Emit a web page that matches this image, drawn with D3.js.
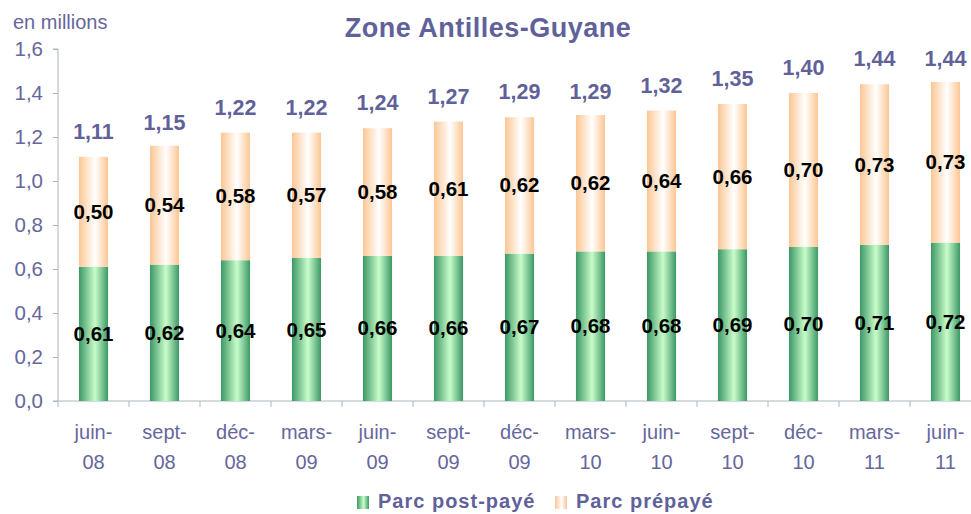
<!DOCTYPE html>
<html>
<head>
<meta charset="utf-8">
<script src="https://cdn.jsdelivr.net/npm/d3@7"></script>
<style>
  body { margin: 0; background: #fff; }
  svg { font-family: "Liberation Sans", Arial, sans-serif; }
  .axis text { fill: #66669c; font-size: 20px; }
  .y.axis text { font-size: 20.5px; }
  .axis path, .axis line { stroke: #a9b6c2; }
</style>
</head>
<body>
<div id="chart"></div>
<script>
// chart data
var periods = ["juin-08", "sept-08", "déc-08", "mars-09", "juin-09", "sept-09", "déc-09",
  "mars-10", "juin-10", "sept-10", "déc-10", "mars-11", "juin-11"];
var postpaid = [0.61, 0.62, 0.64, 0.65, 0.66, 0.66, 0.67, 0.68, 0.68, 0.69, 0.70, 0.71, 0.72];
var prepaid = [0.50, 0.54, 0.58, 0.57, 0.58, 0.61, 0.62, 0.62, 0.64, 0.66, 0.70, 0.73, 0.73];
var totals = [1.11, 1.15, 1.22, 1.22, 1.24, 1.27, 1.29, 1.29, 1.32, 1.35, 1.40, 1.44, 1.44];
var yTicks = [0, 0.2, 0.4, 0.6, 0.8, 1.0, 1.2, 1.4, 1.6];
var seriesNames = ["Parc post-payé", "Parc prépayé"];

var W = 971, H = 514;
var fmt = function(v) { return d3.format(".2f")(v).replace(".", ","); };
var fmt1 = function(v) { return d3.format(".1f")(v).replace(".", ","); };

var svg = d3.select("#chart").append("svg")
  .attr("width", W)
  .attr("height", H);

// gradients for the bars
var defs = svg.append("defs");
function gradient(id, edge, mid) {
  var g = defs.append("linearGradient")
    .attr("id", id)
    .attr("x1", "0%").attr("x2", "100%")
    .attr("y1", "0%").attr("y2", "0%");
  g.append("stop").attr("offset", "0%").attr("stop-color", edge);
  g.append("stop").attr("offset", "55%").attr("stop-color", mid);
  g.append("stop").attr("offset", "100%").attr("stop-color", edge);
}
gradient("gGreen", "#3c9866", "#c9fdc9");
gradient("gPeach", "#fcc693", "#ffffff");

var x = d3.scaleBand()
  .domain(periods)
  .range([58, 981])
  .paddingInner(0.59)
  .paddingOuter(0.295);

var y = d3.scaleLinear()
  .domain([0, 1.6])
  .range([401, 49]);

// y axis
var yAxis = svg.append("g")
  .attr("class", "y axis")
  .attr("transform", "translate(58,0)")
  .call(d3.axisLeft(y).tickValues(yTicks).tickFormat(fmt1).tickSize(5).tickPadding(10));
yAxis.select(".domain").attr("d", "M-5," + y(1.6) + "H0V" + y(0));

// x axis: ticks at the band boundaries
var xAxis = svg.append("g")
  .attr("class", "x axis")
  .attr("transform", "translate(0,401)");
xAxis.append("line")
  .attr("x1", 53).attr("x2", W)
  .attr("y1", 0).attr("y2", 0);
xAxis.selectAll("line.tick")
  .data(periods)
  .enter().append("line")
  .attr("class", "tick")
  .attr("x1", function(d) { return x(d) - x.step() * x.paddingInner() / 2; })
  .attr("x2", function(d) { return x(d) - x.step() * x.paddingInner() / 2; })
  .attr("y1", 0).attr("y2", 6);
var xl = xAxis.selectAll("text")
  .data(periods)
  .enter().append("text")
  .attr("x", function(d) { return x(d) + x.bandwidth() / 2; })
  .attr("text-anchor", "middle");
xl.append("tspan")
  .attr("x", function(d) { return x(d) + x.bandwidth() / 2; })
  .attr("y", 38)
  .text(function(d) { return d.split("-")[0] + "-"; });
xl.append("tspan")
  .attr("x", function(d) { return x(d) + x.bandwidth() / 2; })
  .attr("y", 68)
  .text(function(d) { return d.split("-")[1]; });

// bars
var bars = svg.append("g").attr("class", "bars");
bars.selectAll("rect.post")
  .data(periods)
  .enter().append("rect")
  .attr("class", "post")
  .attr("x", function(d) { return x(d); })
  .attr("width", x.bandwidth())
  .attr("y", function(d, i) { return y(postpaid[i]); })
  .attr("height", function(d, i) { return y(0) - y(postpaid[i]); })
  .style("fill", "url(#gGreen)");
bars.selectAll("rect.pre")
  .data(periods)
  .enter().append("rect")
  .attr("class", "pre")
  .attr("x", function(d) { return x(d); })
  .attr("width", x.bandwidth())
  .attr("y", function(d, i) { return y(postpaid[i] + prepaid[i]); })
  .attr("height", function(d, i) { return y(postpaid[i]) - y(postpaid[i] + prepaid[i]); })
  .style("fill", "url(#gPeach)");

// value labels
var labels = svg.append("g")
  .style("font-weight", "bold")
  .attr("text-anchor", "middle");
labels.selectAll("text.post")
  .data(periods)
  .enter().append("text")
  .attr("x", function(d) { return x(d) + x.bandwidth() / 2; })
  .attr("y", function(d, i) { return y(postpaid[i] / 2) + 7; })
  .style("font-size", "20.5px")
  .style("fill", "#000")
  .text(function(d, i) { return fmt(postpaid[i]); });
labels.selectAll("text.pre")
  .data(periods)
  .enter().append("text")
  .attr("x", function(d) { return x(d) + x.bandwidth() / 2; })
  .attr("y", function(d, i) { return y(postpaid[i] + prepaid[i] / 2) + 7; })
  .style("font-size", "20.5px")
  .style("fill", "#000")
  .text(function(d, i) { return fmt(prepaid[i]); });
labels.selectAll("text.total")
  .data(periods)
  .enter().append("text")
  .attr("x", function(d) { return x(d) + x.bandwidth() / 2; })
  .attr("y", function(d, i) { return y(totals[i]) - 18; })
  .style("font-size", "21.5px")
  .style("fill", "#61619a")
  .text(function(d, i) { return fmt(totals[i]); });

// title and unit
svg.append("text")
  .attr("x", 488).attr("y", 37)
  .attr("text-anchor", "middle")
  .style("font-weight", "bold")
  .style("font-size", "27px")
  .style("letter-spacing", "0.5px")
  .style("fill", "#61619a")
  .text("Zone Antilles-Guyane");
svg.append("text")
  .attr("x", 13).attr("y", 29)
  .style("font-size", "20px")
  .style("fill", "#66669c")
  .text("en millions");

// legend
var legend = svg.append("g")
  .style("font-weight", "bold")
  .style("font-size", "20px")
  .style("letter-spacing", "1px")
  .style("fill", "#61619a");
var legendX = [357, 555];
var legendFill = ["url(#gGreen)", "url(#gPeach)"];
seriesNames.forEach(function(name, i) {
  legend.append("rect")
    .attr("x", legendX[i]).attr("y", 496)
    .attr("width", 12).attr("height", 13)
    .style("fill", legendFill[i]);
  legend.append("text")
    .attr("x", legendX[i] + 21).attr("y", 508)
    .text(name);
});
</script>
</body>
</html>
